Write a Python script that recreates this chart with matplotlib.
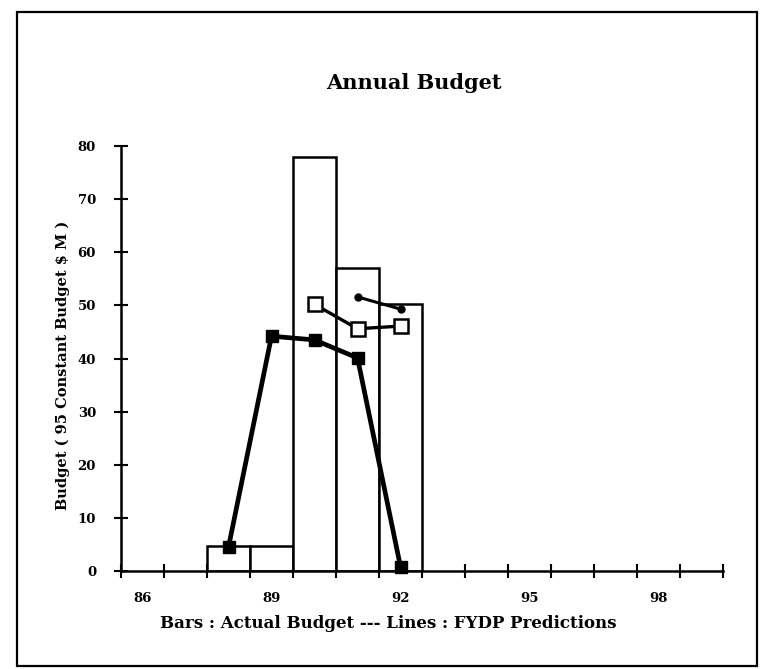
import matplotlib
matplotlib.use("Agg")
import matplotlib.pyplot as plt
from matplotlib.patches import Rectangle

# Fiscal years on the category axis
years = list(range(86, 100))
label_years = [86, 89, 92, 95, 98]

# Actual budget (bars)
bar_years = [88, 89, 90, 91, 92]
actual_budget = [4.8, 4.8, 78.0, 57.0, 50.3]

# FYDP prediction series (lines)
fydp1_years = [88, 89, 90, 91, 92]
fydp1_values = [4.5, 44.2, 43.5, 40.1, 0.8]

fydp2_years = [90, 91, 92]
fydp2_values = [50.2, 45.6, 46.1]

fydp3_years = [91, 92]
fydp3_values = [51.6, 49.3]

y_ticks = list(range(0, 81, 10))

serif = ["DejaVu Serif"]
W, H = 762, 669
fig = plt.figure(figsize=(W / 100, H / 100), dpi=100)
fig.patch.set_facecolor("white")

# outer frame around the whole chart
fig.add_artist(Rectangle((17 / W, 1 - 666 / H), 740 / W, 654 / H,
                         transform=fig.transFigure, fill=False,
                         edgecolor="black", linewidth=1.6))

ax = fig.add_axes([121 / W, 1 - 571 / H, 602 / W, 425 / H])

ax.bar(bar_years, actual_budget, width=1.0, color="white",
       edgecolor="black", linewidth=1.8, zorder=2)

ax.plot(fydp1_years, fydp1_values, color="black", linewidth=3.4,
        marker="s", markersize=8, markerfacecolor="black",
        markeredgecolor="black", zorder=4, clip_on=False)
ax.plot(fydp2_years, fydp2_values, color="black", linewidth=2.4,
        marker="s", markersize=10.5, markerfacecolor="white",
        markeredgecolor="black", markeredgewidth=1.8, zorder=5)
ax.plot(fydp3_years, fydp3_values, color="black", linewidth=2.2,
        marker="o", markersize=5, markerfacecolor="black",
        markeredgecolor="black", zorder=6)

ax.set_xlim(years[0] - 0.5, years[-1] + 0.5)
ax.set_ylim(0, 80)

for side in ("top", "right"):
    ax.spines[side].set_visible(False)
for side in ("left", "bottom"):
    ax.spines[side].set_linewidth(1.8)

# category boundaries carry the tick marks, labels sit at category centres
ax.set_xticks([y - 0.5 for y in years] + [years[-1] + 0.5], minor=True)
ax.set_xticks(label_years)
ax.set_xticklabels([str(y) for y in label_years])
ax.tick_params(axis="x", which="minor", direction="inout", length=10, width=1.5)
ax.tick_params(axis="x", which="major", length=0, pad=15)

ax.set_yticks(y_ticks)
ax.set_yticklabels([str(v) for v in y_ticks])
ax.tick_params(axis="y", direction="inout", length=10, width=1.5, pad=13)

for lab in ax.get_xticklabels() + ax.get_yticklabels():
    lab.set_family(serif)
    lab.set_fontweight("bold")
    lab.set_fontsize(9.5)

fig.text(63 / W, 1 - 365 / H, "Budget ( 95 Constant Budget $ M )",
         family=serif, fontweight="bold", fontsize=10.5,
         rotation=90, ha="center", va="center")
fig.text(388 / W, 1 - 623 / H,
         "Bars : Actual Budget --- Lines : FYDP Predictions",
         family=serif, fontweight="bold", fontsize=12,
         ha="center", va="center")

fig.text(414 / W, 1 - 83 / H, "Annual Budget", family=serif,
         fontweight="bold", fontsize=15, ha="center", va="center")

fig.savefig("out.png", dpi=100, facecolor="white")
